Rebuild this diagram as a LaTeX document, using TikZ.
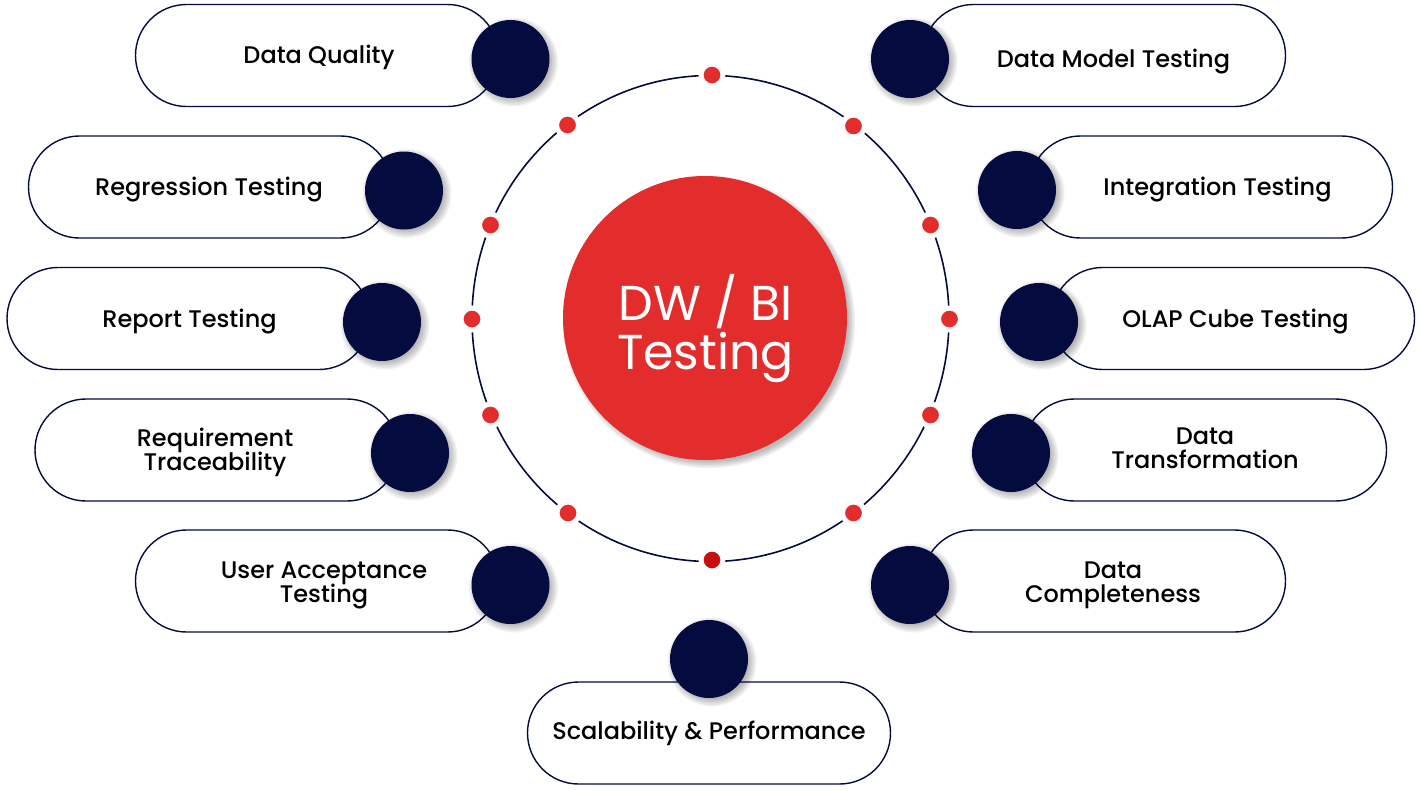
\documentclass[tikz,border=0pt]{standalone}
\usepackage{fontspec}
\setmainfont{Poppins}
\newfontfamily\medfont{Poppins Medium}
\usetikzlibrary{calc,shapes.geometric}
\definecolor{navy}{HTML}{030B3F}
\definecolor{redc}{HTML}{E32D2D}
\definecolor{redd}{HTML}{C70F0F}
\newcommand{\tightlines}{\setlength{\lineskiplimit}{-30pt}}
\tikzset{
  pill/.style={draw=navy,line width=1.4pt,fill=white,rounded corners=51pt,minimum width=363pt,minimum height=102pt,inner sep=0pt},
  lab/.style={align=center,text=black,inner sep=0pt,font=\medfont\fontsize{24}{24}\selectfont\tightlines},
  disc/.style={circle,fill=navy,minimum size=78pt,inner sep=0pt},
  dot/.style={circle,fill=redc,draw=white,line width=5pt,minimum size=22pt,inner sep=0pt},
}
\begin{document}
\begin{tikzpicture}[x=1pt,y=-1pt,line join=round,line cap=round]
\useasboundingbox (0,0) rectangle (1420,790);
% vong tron
\node[ellipse,draw=navy,line width=1.6pt,minimum width=477pt,minimum height=486pt,inner sep=0pt] (Ring) at (710.5,318.5) {};
\foreach \x/\y [count=\j] in {712/75,853.5/126,930.5/225,949.5/319,930.5/415,853.5/513,568/513,490.5/415,472/319,490.5/225,567.5/125}
  \node[dot] (d\j) at (\x,\y) {};
\node[dot,fill=redd] (d12) at (712,560) {};
% tam
\foreach \r in {140,141.5,...,146}
  \fill[black,opacity=0.06] (709,322) circle(\r);
\node[circle,fill=redc,minimum size=284pt,inner sep=0pt] (C) at (705,318) {};
\node[text=white,align=center,inner sep=0pt,font=\fontsize{49}{49}\selectfont\tightlines] (T) at (705.5,328.5) {DW / BI\\Testing};
% cac khung
\foreach \px/\py/\cx/\cy/\tx/\ty/\t [count=\j] in {
  317/55.5/510.5/59/319/57/{Data Quality},
  210/187/404/190.5/209/190/{Regression Testing},
  188.5/318.5/382/322/189.5/322/{Report Testing},
  216.5/450/410/453/215/452/{Requirement\\Traceability},
  317/581/510.5/585/324/585/{User Acceptance\\Testing},
  1104/55.5/910/59/1113.5/62/{Data Model Testing},
  1211/187/1017/190/1217.5/190/{Integration Testing},
  1233/318.5/1039/322/1235.5/322/{OLAP Cube Testing},
  1205/450/1011/453/1205/448/{Data\\Transformation},
  1104/581/910/585/1113/585/{Data\\Completeness},
  709/733/709/659/709/733/{Scalability \& Performance}}{
    \node[pill] (p\j) at (\px,\py) {};
    \node[lab] (t\j) at (\tx,\ty) {\t};
    \foreach \r in {37,38.5,...,45}
      \fill[black,opacity=0.05] (\cx+3,\cy+3) circle(\r);
    \node[disc] (b\j) at (\cx,\cy) {};
  }
\end{tikzpicture}
\end{document}
